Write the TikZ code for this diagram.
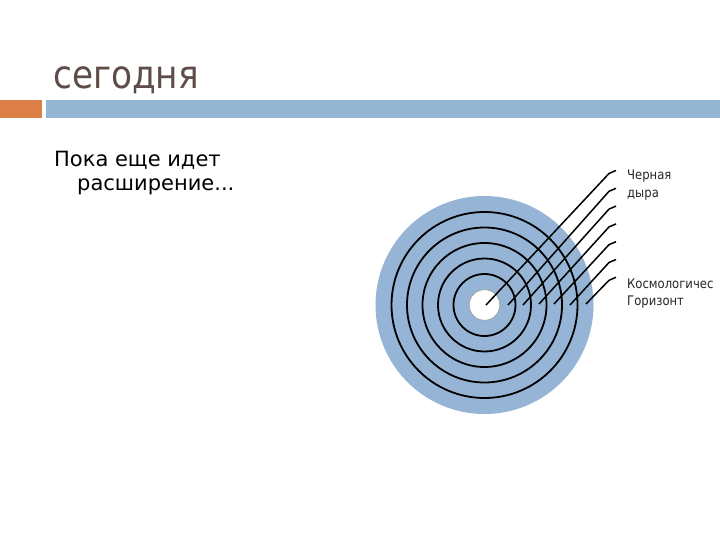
\documentclass[tikz,border=0pt]{standalone}
\usepackage{fontspec}
\setmainfont{DejaVu Sans}
\newfontfamily\narrowfont{DejaVu Sans}[FakeStretch=0.88]
\definecolor{titlecol}{RGB}{94,76,72}
\definecolor{orangebar}{RGB}{221,128,71}
\definecolor{bluebar}{RGB}{148,182,210}
\definecolor{ringfill}{RGB}{150,180,214}
\begin{document}
\begin{tikzpicture}[x=1pt,y=-1pt,
  ring/.style={draw=black,line width=1.8pt},
  pointer/.style={draw=black,line width=1.5pt},
  lbl/.style={anchor=base west,inner sep=0pt,font=\narrowfont\fontsize{13.2}{16}\selectfont,text=black!85}]
\useasboundingbox (0,0) rectangle (720,540);
\fill[white] (0,0) rectangle (720,540);
% header
\node[anchor=base west,inner sep=0pt,font=\narrowfont\fontsize{39}{44}\selectfont,text=titlecol] (title) at (53,89) {сегодня};
\fill[orangebar] (0,100.5) rectangle (42,118);
\fill[bluebar] (46,100.5) rectangle (720,118);
% body
\node[anchor=base west,inner sep=0pt,font=\fontsize{21}{24}\selectfont] (body1) at (54,166.5) {Пока еще идет};
\node[anchor=base west,inner sep=0pt,font=\fontsize{21}{24}\selectfont] (body2) at (77,190.5) {расширение...};
% disk
\coordinate (c) at (484.5,305);
\fill[ringfill] (c) circle (109);
\foreach \r in {31,46.5,62,77.5,93} \draw[ring] (c) circle (\r);
\filldraw[fill=white,draw=black!40,line width=0.6pt] (c) circle (15.3);
% pointers
\foreach \i/\sx/\sy in {0/486/305,1/508/305,2/523/305,3/539/304,4/554/304,5/570/305,6/586/304}{
  \pgfmathsetmacro{\ey}{170.5+17.8*\i}
  \coordinate (s\i) at (\sx,\sy);
  \coordinate (k\i) at (609,\ey+3);
  \coordinate (e\i) at (616,\ey);
  \draw[pointer,line join=round] (s\i) -- (k\i) -- (e\i);
}
% labels
\node[lbl] (bh1) at (627,179.5) {Черная};
\node[lbl] (bh2) at (627,197.5) {дыра};
\node[lbl] (ch1) at (627,288.5) {Космологичес};
\node[lbl] (ch2) at (627,305) {Горизонт};
\end{tikzpicture}
\end{document}
